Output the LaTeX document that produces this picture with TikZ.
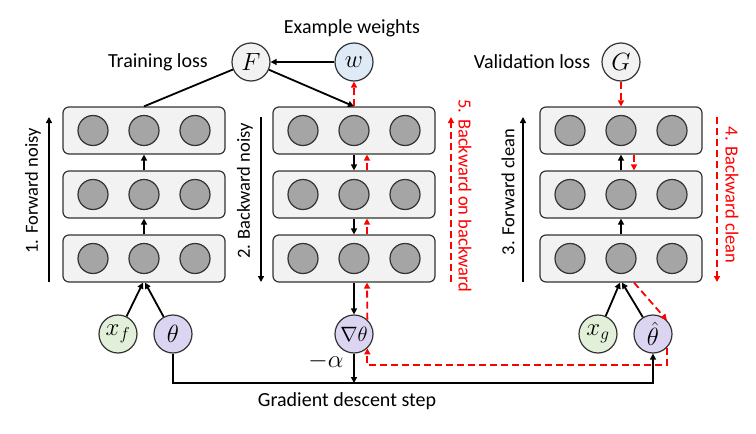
\documentclass[tikz,border=0pt]{standalone}
\usepackage{fontspec}
\setmainfont{Carlito}
\usetikzlibrary{arrows.meta}
\definecolor{boxfill}{HTML}{F2F2F2}
\definecolor{unitfill}{HTML}{A5A5A5}
\definecolor{wfill}{HTML}{DEEBF7}
\definecolor{xfill}{HTML}{E2F0D9}
\definecolor{tfill}{HTML}{DCD5F2}
\definecolor{myred}{HTML}{FF0000}
\begin{document}
\begin{tikzpicture}[x=1pt,y=-1pt,
 layer/.style={draw=black!80, line width=1.2pt, fill=boxfill, rounded corners=6pt, minimum width=162pt, minimum height=47pt, inner sep=0pt},
 unitc/.style={circle, draw=black!80, line width=1.2pt, fill=unitfill, minimum size=30pt, inner sep=0pt},
 var/.style={circle, draw=black!80, line width=1.2pt, minimum size=38pt, inner sep=0pt, font=\fontsize{23}{26}\selectfont},
 lab/.style={font=\fontsize{20}{24}\selectfont, inner sep=0pt},
 vlab/.style={font=\fontsize{18.5}{22}\selectfont, inner sep=0pt},
 arr/.style={line width=1.8pt, -{Triangle[length=6pt,width=6pt]}},
 rarr/.style={myred, line width=1.8pt, dash pattern=on 7pt off 4pt, -{Triangle[length=6pt,width=6pt]}},
 vline/.style={line width=1.8pt, -{Triangle[length=6pt,width=6pt]}},
]
\useasboundingbox (0,0) rectangle (756,434);

% layers
\foreach \n/\cx in {1/144, 2/354, 3/621} {
  \foreach \r/\cy in {1/130.5, 2/194.5, 3/258.5} {
    \node[layer] (b\n\r) at (\cx,\cy) {};
    \node[unitc] (u\n\r a) at (\cx-51,\cy) {};
    \node[unitc] (u\n\r b) at (\cx,\cy) {};
    \node[unitc] (u\n\r c) at (\cx+51,\cy) {};
  }
}

% variable nodes
\node[var, fill=boxfill] (F) at (251,62) {$F$};
\node[var, fill=wfill] (w) at (354,62) {$w$};
\node[var, fill=boxfill] (G) at (621,62) {$G$};
\node[var, fill=xfill] (xf) at (118,334) {$x_f$};
\node[var, fill=tfill] (th) at (173,334) {$\theta$};
\node[var, fill=tfill, font=\fontsize{21}{24}\selectfont] (nab) at (354,334) {$\nabla\theta$};
\node[var, fill=xfill] (xg) at (598,334) {$x_g$};
\node[var, fill=tfill] (thh) at (653,334) {$\hat{\theta}$};

% labels
\node[lab] (ew) at (352,28) {Example weights};
\node[lab] (tl) at (158,62) {Training loss};
\node[lab] (vl) at (532,62) {Validation loss};
\node[lab] (gds) at (347,401) {Gradient descent step};
\node[font=\fontsize{23}{26}\selectfont, inner sep=0pt] (al) at (326,361) {$-\alpha$};
\node[vlab, rotate=90] (l1) at (33,191) {1. Forward noisy};
\node[vlab, rotate=90] (l2) at (245,191) {2. Backward noisy};
\node[vlab, rotate=90] (l3) at (508,192) {3. Forward clean};
\node[vlab, rotate=-90, text=myred] (l4) at (732,195) {4. Backward clean};
\node[vlab, rotate=-90, text=myred] (l5) at (465,196) {5. Backward on backward};

% side arrows
\coordinate (s1a) at (49,282); \coordinate (s1b) at (49,117);
\coordinate (s2a) at (261,117); \coordinate (s2b) at (261,282);
\coordinate (s3a) at (523,282); \coordinate (s3b) at (523,117);
\coordinate (s4a) at (717,117); \coordinate (s4b) at (717,282);
\coordinate (s5a) at (451,282); \coordinate (s5b) at (451,117);
\draw[vline] (s1a) -- (s1b);
\draw[vline] (s2a) -- (s2b);
\draw[vline] (s3a) -- (s3b);
\draw[rarr] (s4a) -- (s4b);
\draw[rarr] (s5a) -- (s5b);

% network 1 forward
\draw[arr] (xf) -- ([xshift=-1pt]b13.south);
\draw[arr] (th) -- ([xshift=1pt]b13.south);
\draw[arr] (b13.north) -- (b12.south);
\draw[arr] (b12.north) -- (b11.south);
\draw[line width=1.8pt] (b11.north) -- (F);
\draw[arr] (w) -- (F);
\draw[arr] (F) -- (b21.north);

% network 2 backward
\draw[arr] (b21.south) -- (b22.north);
\draw[arr] (b22.south) -- (b23.north);
\draw[arr] (b23.south) -- (nab.north);
\draw[rarr] (nab.47) -- ([xshift=13pt]b23.south);
\draw[rarr] ([xshift=13pt]b23.north) -- ([xshift=13pt]b22.south);
\draw[rarr] ([xshift=13pt]b22.north) -- ([xshift=13pt]b21.south);
\draw[rarr] (b21.north) -- (w.south);

% network 3
\draw[arr] (xg) -- ([xshift=-1pt]b33.south);
\draw[arr] (thh) -- ([xshift=1pt]b33.south);
\draw[arr] (b33.north) -- (b32.south);
\draw[arr] (b32.north) -- (b31.south);
\draw[rarr] (G.south) -- (b31.north);
\draw[rarr] ([xshift=13pt]b31.south) -- ([xshift=13pt]b32.north);
\draw[rarr] ([xshift=13pt]b33.south) -- (thh.45);

% red return path
\coordinate (rc) at (0,365);
\draw[rarr] (thh.-45) -- (thh.-45 |- rc) -| (nab.-47);

% gradient descent
\coordinate (gc) at (0,383);
\draw[arr] (th.south) |- (gc -| thh) -- (thh.south);
\draw[arr] (nab.south) -- (nab.south |- gc);
\end{tikzpicture}
\end{document}
